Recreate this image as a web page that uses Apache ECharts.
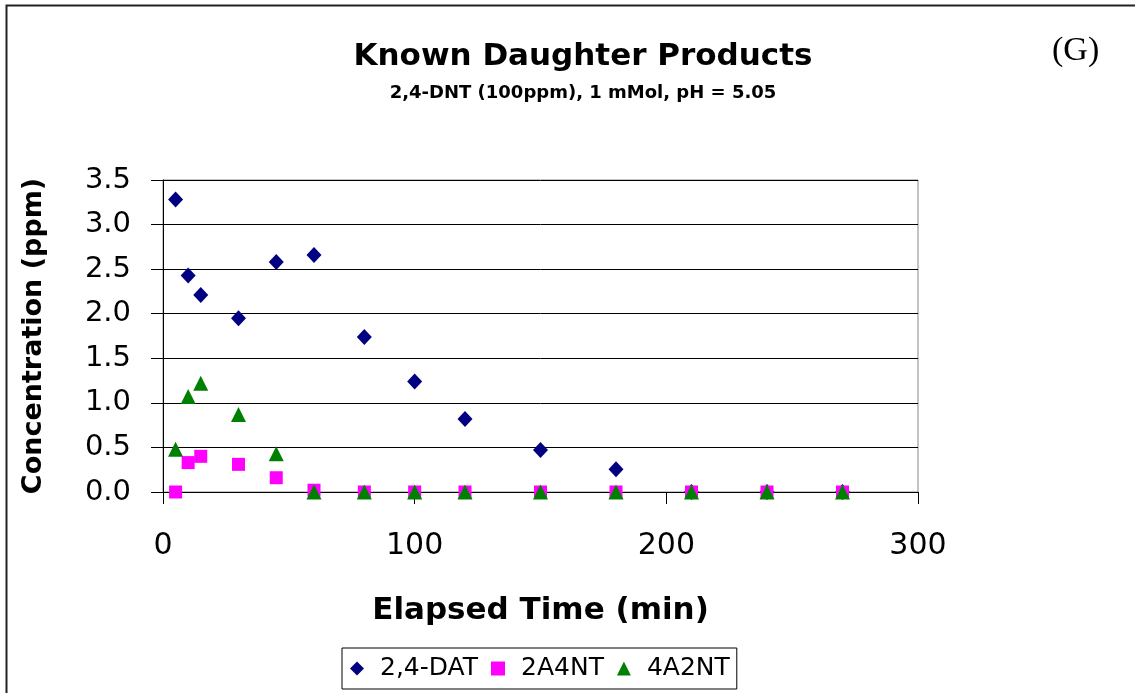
<!DOCTYPE html>
<html><head><meta charset="utf-8">
<script src="https://cdn.jsdelivr.net/npm/echarts@6/dist/echarts.min.js"></script>
<style>html,body{margin:0;padding:0;background:#fff}#c{width:1135px;height:693px}</style>
</head><body><div id="c"></div>
<script>
const times = [5, 10, 15, 30, 45, 60, 80, 100, 120, 150, 180, 210, 240, 270];
const dat24 = [3.28, 2.43, 2.21, 1.95, 2.58, 2.66, 1.74, 1.24, 0.82, 0.47, 0.255, 0, 0, 0];
const nt2a4 = [0, 0.33, 0.40, 0.31, 0.16, 0.02, 0, 0, 0, 0, 0, 0, 0, 0];
const nt4a2 = [0.48, 1.07, 1.22, 0.87, 0.43, 0, 0, 0, 0, 0, 0, 0, 0, 0];
const seriesNames = ['2,4-DAT', '2A4NT', '4A2NT'];
const FONT = '"DejaVu Sans", Arial, sans-serif';

const pair = arr => times.map((t, i) => [t, arr[i]]);
const chart = echarts.init(document.getElementById('c'), null, {renderer: 'canvas'});
chart.setOption({
  animation: false,
  backgroundColor: '#fff',
  title: [
    {text: 'Known Daughter Products', left: 578, top: 36, textAlign: 'center',
     textStyle: {fontFamily: FONT, fontWeight: 'bold', fontSize: 31, color: '#000'}},
    {text: '2,4-DNT (100ppm), 1 mMol, pH = 5.05', left: 578, top: 79, textAlign: 'center',
     textStyle: {fontFamily: FONT, fontWeight: 'bold', fontSize: 18, color: '#000'}}
  ],
  graphic: [
    {type: 'rect', shape: {x: 6.5, y: 5.5, width: 1200, height: 800}, style: {fill: null, stroke: '#222', lineWidth: 2}, silent: true},
    {type: 'text', left: 1052, top: 34, style: {text: '(G)', font: '34px "Liberation Serif", "Times New Roman", serif', fill: '#000'}}
  ],
  legend: {
    data: seriesNames, left: 342, top: 648, orient: 'horizontal',
    borderColor: '#000', borderWidth: 1, padding: [8, 7, 8, 8], itemGap: 13,
    itemWidth: 14, itemHeight: 14,
    textStyle: {fontFamily: FONT, fontSize: 25, color: '#000', padding: [0, 0, 0, 11]}
  },
  grid: {left: 163, right: 217, top: 180, bottom: 201, show: true, borderColor: '#888', borderWidth: 1},
  xAxis: {
    type: 'value', min: 0, max: 300, interval: 100,
    name: 'Elapsed Time (min)', nameLocation: 'middle', nameGap: 103,
    nameTextStyle: {fontFamily: FONT, fontWeight: 'bold', fontSize: 31, color: '#000'},
    axisLine: {lineStyle: {color: '#000', width: 1}},
    axisTick: {show: true, inside: false, length: 12, lineStyle: {color: '#000'}},
    axisLabel: {fontFamily: FONT, fontSize: 30, color: '#000', margin: 39},
    splitLine: {show: false}
  },
  yAxis: {
    type: 'value', min: 0, max: 3.5, interval: 0.5,
    name: 'Concentration (ppm)', nameLocation: 'middle', nameGap: 116,
    nameTextStyle: {fontFamily: FONT, fontWeight: 'bold', fontSize: 27, color: '#000'},
    axisLine: {show: true, lineStyle: {color: '#000', width: 1}},
    axisTick: {show: true, inside: false, length: 12, lineStyle: {color: '#000'}},
    axisLabel: {fontFamily: FONT, fontSize: 29, color: '#000', margin: 32, formatter: v => v.toFixed(1)},
    splitLine: {show: true, lineStyle: {color: '#000', width: 1}}
  },
  series: [
    {name: seriesNames[0], type: 'scatter', data: pair(dat24), symbol: 'diamond', symbolSize: [15, 16], itemStyle: {color: '#000080', opacity: 1}, z: 2},
    {name: seriesNames[1], type: 'scatter', data: pair(nt2a4), symbol: 'rect', symbolSize: 13, itemStyle: {color: '#FF00FF', opacity: 1}, z: 3},
    {name: seriesNames[2], type: 'scatter', data: pair(nt4a2), symbol: 'triangle', symbolSize: 15, itemStyle: {color: '#008000', opacity: 1}, z: 4}
  ]
});
</script></body></html>
